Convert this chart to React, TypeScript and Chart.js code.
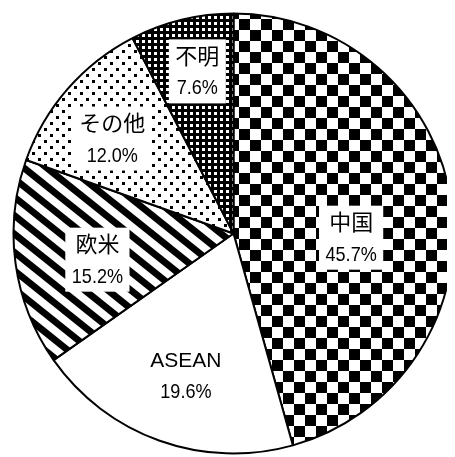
import { useEffect, useRef } from "react";
import { Chart, registerables } from "chart.js";

Chart.register(...registerables);

const categories = ["中国", "ASEAN", "欧米", "その他", "不明"];
const shares = [45.7, 19.6, 15.2, 12.0, 7.6];
const percentLabels = ["45.7%", "19.6%", "15.2%", "12.0%", "7.6%"];

// label anchor inside each slice: [fraction of radius, fraction along slice angle]
const labelAnchors: [number, number][] = [
  [0.535, 0.56],
  [0.68, 0.485],
  [0.63, 0.444],
  [0.7, 0.43],
  [0.755, 0.54],
];

function tile(w: number, h: number, draw: (c: CanvasRenderingContext2D) => void) {
  const cv = document.createElement("canvas");
  cv.width = w;
  cv.height = h;
  const c = cv.getContext("2d")!;
  draw(c);
  return cv;
}

function makePatterns(ctx: CanvasRenderingContext2D) {
  const checker = tile(22, 22, (c) => {
    c.fillStyle = "#fff";
    c.fillRect(0, 0, 22, 22);
    c.fillStyle = "#000";
    c.fillRect(0, 0, 11, 11);
    c.fillRect(11, 11, 11, 11);
  });
  const stripes = tile(115, 92, (c) => {
    c.fillStyle = "#fff";
    c.fillRect(0, 0, 115, 92);
    c.strokeStyle = "#000";
    c.lineWidth = 6.8;
    for (let k = -12; k <= 12; k++) {
      const off = k * 18.4;
      c.beginPath();
      c.moveTo(-30, -30 * 0.8 + off);
      c.lineTo(145, 145 * 0.8 + off);
      c.stroke();
    }
  });
  const dots = tile(12, 12, (c) => {
    c.fillStyle = "#fff";
    c.fillRect(0, 0, 12, 12);
    c.fillStyle = "#000";
    c.fillRect(0, 0, 3, 3);
    c.fillRect(6, 6, 3, 3);
  });
  const fine = tile(6, 6, (c) => {
    c.fillStyle = "#000";
    c.fillRect(0, 0, 6, 6);
    c.fillStyle = "#fff";
    c.fillRect(2, 2, 3, 3);
  });
  return [
    ctx.createPattern(checker, "repeat")!,
    "#ffffff",
    ctx.createPattern(stripes, "repeat")!,
    ctx.createPattern(dots, "repeat")!,
    ctx.createPattern(fine, "repeat")!,
  ];
}

const labelPlugin = {
  id: "boxLabels",
  afterDatasetsDraw(chart: any) {
    const ctx: CanvasRenderingContext2D = chart.ctx;
    const meta = chart.getDatasetMeta(0);
    meta.data.forEach((arc: any, i: number) => {
      const p = arc.getProps(["x", "y", "startAngle", "endAngle", "outerRadius"], true);
      const [rf, af] = labelAnchors[i];
      const ang = p.startAngle + (p.endAngle - p.startAngle) * af;
      const cx = p.x + Math.cos(ang) * p.outerRadius * rf;
      const cy = p.y + Math.sin(ang) * p.outerRadius * rf;
      const cat = categories[i];
      const pct = percentLabels[i];
      const isLatin = /^[A-Z]+$/.test(cat);
      const catFont = isLatin ? "21px 'Liberation Sans', Arial, sans-serif" : "22px 'Noto Sans CJK JP', sans-serif";
      const pctFont = "21px 'Liberation Sans', Arial, sans-serif";
      const sx = 0.86;
      ctx.save();
      ctx.font = catFont;
      const w1 = ctx.measureText(cat).width;
      ctx.font = pctFont;
      const w2 = ctx.measureText(pct).width * sx;
      const bw = Math.max(w1, w2) + 13;
      const bh = 64;
      ctx.fillStyle = "#fff";
      ctx.fillRect(cx - bw / 2, cy - bh / 2, bw, bh);
      ctx.fillStyle = "#000";
      ctx.textAlign = "center";
      ctx.textBaseline = "alphabetic";
      ctx.font = catFont;
      ctx.fillText(cat, cx, cy - 15.5 + (isLatin ? 7.5 : 8));
      ctx.font = pctFont;
      ctx.translate(cx, cy + 15.5 + 7.5);
      ctx.scale(sx, 1);
      ctx.fillText(pct, 0, 0);
      ctx.restore();
    });
  },
};

export default function App() {
  const ref = useRef<HTMLCanvasElement>(null);
  useEffect(() => {
    const canvas = ref.current!;
    const ctx = canvas.getContext("2d")!;
    const chart = new Chart(canvas, {
      type: "pie",
      data: {
        labels: categories,
        datasets: [
          {
            data: shares,
            backgroundColor: makePatterns(ctx) as any,
            borderColor: "#000",
            borderWidth: 2,
          },
        ],
      },
      options: {
        animation: false,
        responsive: true,
        maintainAspectRatio: false,
        layout: { padding: { left: 4.5, right: 0.5, top: 4.5, bottom: 2.5 } },
        plugins: {
          legend: { display: false },
          tooltip: { enabled: false },
        },
      },
      plugins: [labelPlugin],
    });
    return () => chart.destroy();
  }, []);
  return (
    <div style={{ width: 447, height: 449, position: "relative" }}>
      <canvas ref={ref} />
    </div>
  );
}
